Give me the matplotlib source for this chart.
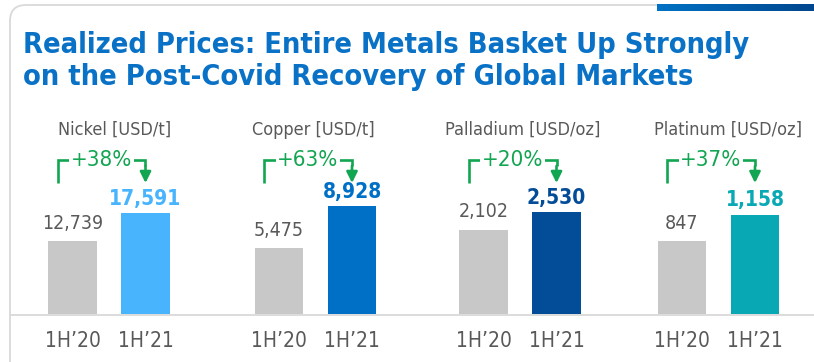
import matplotlib
matplotlib.use("Agg")
import matplotlib.pyplot as plt
import numpy as np
from matplotlib.patches import FancyBboxPatch
from matplotlib.transforms import blended_transform_factory

# ---- data -------------------------------------------------------------
metals = ["Nickel [USD/t]", "Copper [USD/t]", "Palladium [USD/oz]", "Platinum [USD/oz]"]
periods = ["1H\u201920", "1H\u201921"]
price_1h20 = [12739, 5475, 2102, 847]
price_1h21 = [17591, 8928, 2530, 1158]
growth = ["+38%", "+63%", "+20%", "+37%"]

# ---- style ------------------------------------------------------------
highlight = ["#47b4fd", "#0070c6", "#034c97", "#08a9b4"]
grey_bar = "#c8c8c8"
grey_text = "#595959"
frame_grey = "#d9d9d9"
green = "#12a552"
title_blue = "#0a72c6"
FONT = dict(family="DejaVu Sans", fontstretch="condensed")

W, H = 814, 362
fig = plt.figure(figsize=(W / 100, H / 100), dpi=100)

# background layer in pixel units for the slide frame
bg = fig.add_axes([0, 0, 1, 1])
bg.set_xlim(0, W)
bg.set_ylim(H, 0)
bg.axis("off")
bg.add_patch(FancyBboxPatch((10, 5), 1000, 600,
                            boxstyle="round,pad=0,rounding_size=16",
                            facecolor="none", edgecolor=frame_grey, lw=1.3))
grad = np.linspace(0, 1, 256).reshape(1, -1)
bg.imshow(grad, extent=(657, W, 11, 4.5), aspect="auto", zorder=3,
          cmap=matplotlib.colors.LinearSegmentedColormap.from_list(
              "band", ["#0072c4", "#00468e"]))
bg.set_xlim(0, W)
bg.set_ylim(H, 0)
bg.plot([10, W], [314.5, 314.5], color=frame_grey, lw=1.3)

bg.text(23, 53, "Realized Prices: Entire Metals Basket Up Strongly",
        color=title_blue, fontsize=20.8, fontweight="bold", va="baseline", **FONT)
bg.text(23, 85, "on the Post-Covid Recovery of Global Markets",
        color=title_blue, fontsize=20.8, fontweight="bold", va="baseline", **FONT)

# ---- one small bar panel per metal ------------------------------------
first_bar_px = [72.5, 279, 483.5, 682]   # centre of the 1H'20 bar
step_px = 73                              # bar-to-bar spacing
base_px, panel_h = 314, 200
y_top = [35000, 16600, 4980, 2330]        # per-panel value scale
title_x = [0.57, 0.47, 0.54, 0.63]

for i, metal in enumerate(metals):
    left = first_bar_px[i] - step_px
    ax = fig.add_axes([left / W, (H - base_px) / H, 3 * step_px / W, panel_h / H])
    ax.patch.set_visible(False)
    ax.set_xlim(-1, 2)
    ax.set_ylim(0, y_top[i])
    for s in ax.spines.values():
        s.set_visible(False)
    ax.set_yticks([])

    vals = [price_1h20[i], price_1h21[i]]
    ax.bar([0, 1], vals, width=0.66, color=[grey_bar, highlight[i]], zorder=2)

    ax.set_xticks([0, 1])
    ax.set_xticklabels(periods, fontsize=15, color=grey_text, **FONT)
    ax.tick_params(axis="x", length=0, pad=12)

    ax.annotate(f"{vals[0]:,}", (0, vals[0]), xytext=(0, 9), textcoords="offset points",
                ha="center", va="baseline", fontsize=14, color=grey_text, **FONT)
    ax.annotate(f"{vals[1]:,}", (1, vals[1]), xytext=(0, 6), textcoords="offset points",
                ha="center", va="baseline", fontsize=15, fontweight="bold",
                color=highlight[i], **FONT)

    tr = blended_transform_factory(ax.transData, ax.transAxes)
    ax.text(title_x[i], 0.92, metal, transform=tr, ha="center", va="center",
            fontsize=13, color=grey_text, **FONT)

    # growth bracket from the 1H'20 bar over to the 1H'21 bar
    xl, xr, ytop, ybot = -0.205, 1.0, 0.77, 0.655
    ax.plot([xl, xl, xr, xr], [ybot, ytop, ytop, ytop - 0.03], transform=tr,
            color=green, lw=1.9, solid_joinstyle="miter", solid_capstyle="butt")
    ax.annotate("", xy=(xr, ybot), xytext=(xr, ytop - 0.03), xycoords=tr, textcoords=tr,
                arrowprops=dict(arrowstyle="-|>,head_length=0.5,head_width=0.25",
                                mutation_scale=13, color=green, lw=1.9,
                                shrinkA=0, shrinkB=0))
    ax.text((xl + xr) / 2, ytop, growth[i], transform=tr, ha="center", va="center",
            fontsize=16, color=green,
            bbox=dict(boxstyle="square,pad=0.08", facecolor="white", edgecolor="none"),
            **FONT)

fig.savefig("out.png", dpi=100)
